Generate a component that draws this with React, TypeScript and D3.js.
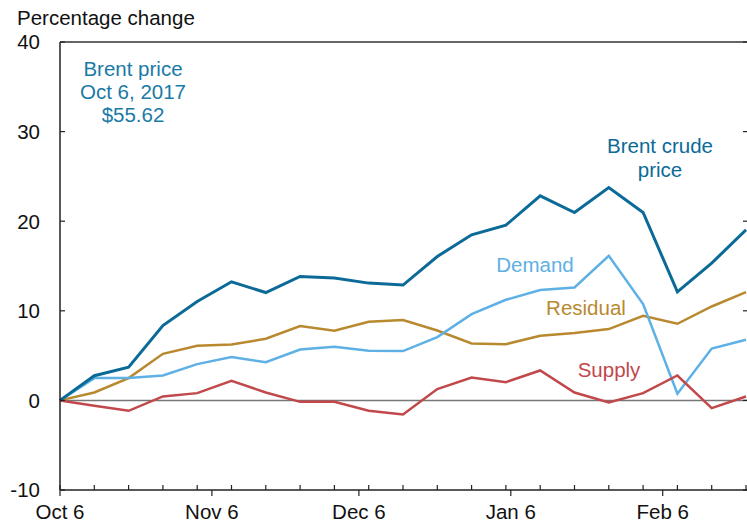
import React from "react";
import * as d3 from "d3";

// weekly observations, Oct 6 2017 - Feb 23 2018
const dates = [
  "2017-10-06", "2017-10-13", "2017-10-20", "2017-10-27",
  "2017-11-03", "2017-11-10", "2017-11-17", "2017-11-24",
  "2017-12-01", "2017-12-08", "2017-12-15", "2017-12-22", "2017-12-29",
  "2018-01-05", "2018-01-12", "2018-01-19", "2018-01-26",
  "2018-02-02", "2018-02-09", "2018-02-16", "2018-02-23",
];

const brent = [0, 2.75, 3.7, 8.36, 11.04, 13.24, 12.04, 13.83, 13.65, 13.09, 12.87,
  16.06, 18.48, 19.56, 22.83, 20.97, 23.76, 20.97, 12.12, 15.32, 19.04];
const demand = [0, 2.49, 2.49, 2.78, 4.05, 4.83, 4.27, 5.68, 5.98, 5.54, 5.5,
  7.06, 9.63, 11.23, 12.31, 12.6, 16.14, 10.75, 0.74, 5.79, 6.76];
const residual = [0, 0.88, 2.49, 5.2, 6.09, 6.24, 6.88, 8.29, 7.77, 8.77, 8.96,
  7.8, 6.35, 6.28, 7.21, 7.51, 7.96, 9.44, 8.55, 10.48, 12.09];
const supply = [0, -0.6, -1.16, 0.44, 0.81, 2.19, 0.88, -0.16, -0.16, -1.16, -1.57,
  1.26, 2.56, 2.04, 3.34, 0.88, -0.23, 0.81, 2.78, -0.86, 0.44];

const yTicks = [-10, 0, 10, 20, 30, 40];
const monthTicks = ["2017-10-06", "2017-11-06", "2017-12-06", "2018-01-06", "2018-02-06"];
const monthLabels = ["Oct 6", "Nov 6", "Dec 6", "Jan 6", "Feb 6"];

const W = 747;
const H = 526;
const left = 60;
const right = 746;
const top = 42;
const bottom = 490;
const font = "'Liberation Sans', Arial, sans-serif";
const fs = 20.5;

export default function App() {
  const parse = d3.utcParse("%Y-%m-%d");
  const xs = dates.map((d) => parse(d)!);
  const x = d3.scaleUtc().domain([xs[0], xs[xs.length - 1]]).range([left, right]);
  const y = d3.scaleLinear().domain([-10, 40]).range([bottom, top]);

  const line = (vals: number[]) =>
    d3
      .line<number>()
      .x((_, i) => x(xs[i]))
      .y((v) => y(v))(vals) ?? "";

  const series = [
    { vals: residual, color: "#b8892f", w: 2.5 },
    { vals: demand, color: "#5eb0e5", w: 2.5 },
    { vals: supply, color: "#c1484b", w: 2.5 },
    { vals: brent, color: "#0b6a97", w: 3 },
  ];

  return (
    <div style={{ position: "absolute", left: 0, top: 0 }}>
      <svg width={W} height={H} style={{ display: "block", fontFamily: font }}>
        <rect width={W} height={H} fill="#fff" />
        <text x={17} y={25} fontSize={fs} fill="#111">Percentage change</text>

        {/* zero line */}
        <line x1={left} x2={right + 1} y1={y(0)} y2={y(0)} stroke="#777" strokeWidth={1.5} />

        {series.map((s, i) => (
          <path key={i} d={line(s.vals)} fill="none" stroke={s.color} strokeWidth={s.w}
            strokeLinejoin="miter" />
        ))}

        {/* frame */}
        <line x1={left} x2={W} y1={top} y2={top} stroke="#333" strokeWidth={1.5} />
        <line x1={left} x2={left} y1={top} y2={bottom} stroke="#222" strokeWidth={1.5} />
        <line x1={left} x2={W} y1={bottom} y2={bottom} stroke="#222" strokeWidth={1.5} />

        {yTicks.map((t) => (
          <g key={t}>
            <line x1={left} x2={left + 5} y1={y(t)} y2={y(t)} stroke="#222" strokeWidth={1.2} />
            <line x1={W - 4} x2={W} y1={y(t)} y2={y(t)} stroke="#222" strokeWidth={1.2} />
            <text x={40} y={y(t)} dy="0.36em" textAnchor="end" fontSize={fs} fill="#111">
              {t}
            </text>
          </g>
        ))}

        {xs.map((d, i) => (
          <line key={i} x1={x(d)} x2={x(d)} y1={bottom - 5} y2={bottom} stroke="#222" strokeWidth={1.2} />
        ))}

        {monthTicks.map((m, i) => {
          const px = x(parse(m)!);
          return (
            <g key={m}>
              <line x1={px} x2={px} y1={bottom} y2={bottom + 6} stroke="#222" strokeWidth={1.2} />
              <text x={px} y={519} textAnchor="middle" fontSize={fs} fill="#111">
                {monthLabels[i]}
              </text>
            </g>
          );
        })}

        {/* annotations */}
        <g fill="#1a7aa6" fontSize={fs} textAnchor="middle">
          <text x={133} y={76}>Brent price</text>
          <text x={133} y={99}>Oct 6, 2017</text>
          <text x={133} y={122}>$55.62</text>
        </g>
        <g fill="#0b6a97" fontSize={fs} textAnchor="middle">
          <text x={660} y={153}>Brent crude</text>
          <text x={660} y={177}>price</text>
        </g>
        <text x={535} y={272} textAnchor="middle" fontSize={fs} fill="#5eb0e5">Demand</text>
        <text x={586} y={315} textAnchor="middle" fontSize={fs} fill="#b8892f">Residual</text>
        <text x={609} y={377} textAnchor="middle" fontSize={fs} fill="#c1484b">Supply</text>
      </svg>
    </div>
  );
}
